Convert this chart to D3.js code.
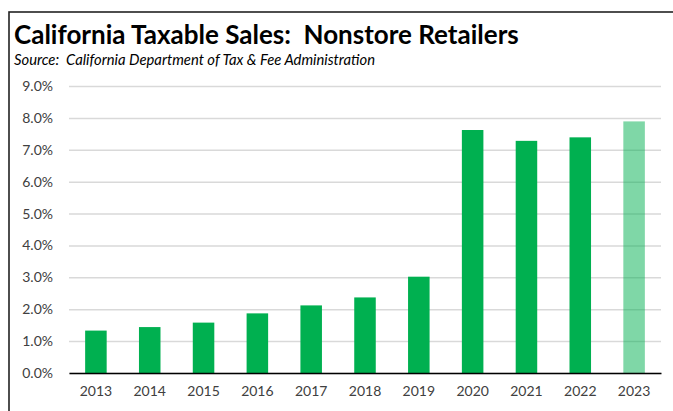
<!DOCTYPE html>
<html>
<head>
<meta charset="utf-8">
<script src="https://d3js.org/d3.v7.min.js"></script>
<style>
  body { margin: 0; background: #fff; }
  text { font-family: Lato, "Open Sans", sans-serif; }
</style>
</head>
<body>
<div id="chart"></div>
<script>
// chart values
const years = ["2013","2014","2015","2016","2017","2018","2019","2020","2021","2022","2023"];
const shares = [1.33, 1.44, 1.58, 1.87, 2.12, 2.37, 3.02, 7.62, 7.28, 7.39, 7.89];
const yTicks = [0, 1, 2, 3, 4, 5, 6, 7, 8, 9];
const partialYear = "2023";

const W = 673, H = 411;
const margin = { top: 86, right: 12, bottom: 38, left: 69 };
const width = W - margin.left - margin.right,
      height = H - margin.top - margin.bottom;

const svg = d3.select("#chart").append("svg")
  .attr("width", W).attr("height", H);

// frame
svg.append("rect")
  .attr("x", 9).attr("y", 12)
  .attr("width", W + 20).attr("height", H + 20)
  .attr("fill", "none").attr("stroke", "#222").attr("stroke-width", 1.6);

svg.append("text")
  .attr("x", 14).attr("y", 44)
  .style("font-size", "26px").style("font-weight", "bold").style("white-space", "pre")
  .attr("fill", "#000")
  .text("California Taxable Sales:  Nonstore Retailers");

svg.append("text")
  .attr("x", 14).attr("y", 65)
  .style("font-size", "14.8px").style("font-style", "italic").style("white-space", "pre")
  .attr("fill", "#000")
  .text("Source:  California Department of Tax & Fee Administration");

const g = svg.append("g")
  .attr("transform", "translate(" + margin.left + "," + margin.top + ")");

const x = d3.scaleBand().domain(years).range([0, width]).paddingInner(0.6).paddingOuter(0.3);
const y = d3.scaleLinear().domain([0, 9]).range([height, 0]);

// gridlines + y labels
const yAxis = g.append("g")
  .call(d3.axisLeft(y).tickValues(yTicks).tickSize(-width).tickFormat(d => d3.format(".1f")(d) + "%"));
yAxis.select(".domain").remove();
yAxis.selectAll(".tick line").attr("stroke", "#d9d9d9").attr("stroke-width", 1.5);
yAxis.selectAll(".tick text").attr("x", -16).attr("fill", "#404040").style("font-size", "14px");

g.selectAll("rect.bar")
  .data(years)
  .enter().append("rect")
  .attr("class", "bar")
  .attr("x", d => x(d))
  .attr("width", x.bandwidth())
  .attr("y", (d, i) => y(shares[i]))
  .attr("height", (d, i) => height - y(shares[i]))
  .attr("fill", "#00b050")
  .attr("fill-opacity", d => d === partialYear ? 0.5 : 1);

const xAxis = g.append("g")
  .attr("transform", "translate(0," + height + ")")
  .call(d3.axisBottom(x).tickSize(0).tickPadding(13));
xAxis.select(".domain").attr("stroke", "#000").attr("stroke-width", 1.5);
xAxis.selectAll(".tick text").attr("fill", "#404040").style("font-size", "14px");
</script>
</body>
</html>
